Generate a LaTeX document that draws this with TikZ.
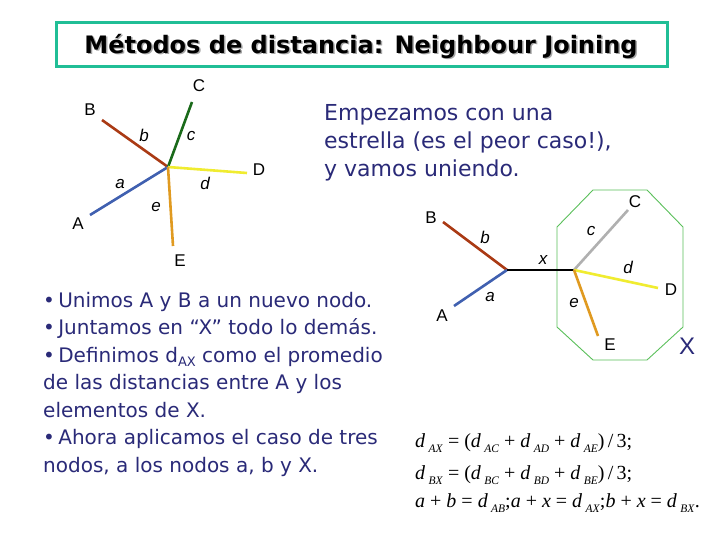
\documentclass[tikz,border=0pt]{standalone}
\usepackage{fontspec}
\setmainfont{DejaVu Sans}
\newfontfamily\tagfont{Liberation Sans}
\newfontfamily\titlefont{DejaVu Sans}
\newfontfamily\eqfont{Liberation Serif}
\newcommand{\dst}[1]{\textit{d}\,\raisebox{-0.55ex}{\fontsize{11.5}{11.5}\selectfont\textit{#1}}}
\definecolor{frame}{RGB}{32,190,150}
\definecolor{ink}{RGB}{42,42,120}
\definecolor{brA}{RGB}{64,96,176}
\definecolor{brB}{RGB}{170,58,20}
\definecolor{brC}{RGB}{26,106,26}
\definecolor{brCg}{RGB}{176,176,176}
\definecolor{brD}{RGB}{240,236,48}
\definecolor{brE}{RGB}{224,154,32}
\definecolor{octo}{RGB}{90,192,90}

\begin{document}
\begin{tikzpicture}[x=1pt,y=-1pt]
\tikzstyle{tip}=[inner sep=0pt,font=\tagfont\fontsize{17}{17}\selectfont]
\tikzstyle{len}=[inner sep=0pt,font=\tagfont\fontsize{17}{17}\selectfont\itshape]
\tikzstyle{branch}=[line width=2.6pt]
\tikzstyle{say}=[inner sep=0pt,anchor=base west,text=ink]
\tikzstyle{eq}=[inner sep=0pt,anchor=base west,font=\eqfont\fontsize{20}{20}\selectfont]
\useasboundingbox[fill=white] (0,0) rectangle (720,540);

\node[draw=frame,line width=3pt,minimum width=611pt,minimum height=44pt] (titlebox) at (361.5,45) {};
\node[text=gray!70,font=\titlefont\bfseries\fontsize{24}{24}\selectfont] (shadow) at (362.5,47.5) {Métodos de distancia: Neighbour Joining};
\node[font=\titlefont\bfseries\fontsize{24}{24}\selectfont] (title) at (361,46) {Métodos de distancia: Neighbour Joining};

\coordinate (o) at (168,167);
\coordinate (eA) at (90,215);
\coordinate (eB) at (102,120);
\coordinate (eC) at (192,102);
\coordinate (eD) at (247,173);
\coordinate (eE) at (173,246);
\draw[branch,brB] (o) -- (eB);
\draw[branch,brC] (o) -- (eC);
\draw[branch,brD] (o) -- (eD);
\draw[branch,brA] (o) -- (eA);
\draw[branch,brE] (o) -- (eE);
\node[tip] (A) at (78,224) {A};
\node[tip] (B) at (90,110) {B};
\node[tip] (C) at (199,86) {C};
\node[tip] (D) at (259,170) {D};
\node[tip] (E) at (180,261) {E};
\node[len] (a) at (120,184) {a};
\node[len] (b) at (144,135) {b};
\node[len] (c) at (191,136) {c};
\node[len] (d) at (205,183) {d};
\node[len] (e) at (156,207) {e};

\node[say,font=\fontsize{22}{22}\selectfont] (say1) at (324,121) {Empezamos con una};
\node[say,font=\fontsize{22}{22}\selectfont] (say2) at (324,149) {estrella (es el peor caso!),};
\node[say,font=\fontsize{22}{22}\selectfont] (say3) at (324,177) {y vamos uniendo.};

\draw[octo,line width=0.9pt] (593,190) -- (647,190) -- (683,227) -- (683,327) -- (647,360) -- (593,360) -- (557,327) -- (557,227) -- cycle;
\coordinate (ab) at (507,270);
\coordinate (xx) at (574,270);
\coordinate (fA) at (454,306);
\coordinate (fB) at (443,222);
\coordinate (fC) at (628,210);
\coordinate (fD) at (658,288);
\coordinate (fE) at (598,336);
\draw[branch,brB] (ab) -- (fB);
\draw[branch,brA] (ab) -- (fA);
\draw[branch,black] (ab) -- (xx);
\draw[branch,brCg] (xx) -- (fC);
\draw[branch,brD] (xx) -- (fD);
\draw[branch,brE] (xx) -- (fE);
\node[tip] (A2) at (442,316) {A};
\node[tip] (B2) at (431,218) {B};
\node[tip] (C2) at (635,202) {C};
\node[tip] (D2) at (671,290) {D};
\node[tip] (E2) at (610,345) {E};
\node[len] (a2) at (490,297) {a};
\node[len] (b2) at (485,237) {b};
\node[len] (x2) at (543,260) {x};
\node[len] (c2) at (591,231) {c};
\node[len] (d2) at (628,267) {d};
\node[len] (e2) at (574,303) {e};
\node[tip,text=ink,font=\tagfont\fontsize{24}{24}\selectfont] (X) at (687,346) {X};

\node[say,font=\fontsize{20}{20}\selectfont] (pt1) at (43,307) {•\,Unimos A y B a un nuevo nodo.};
\node[say,font=\fontsize{20}{20}\selectfont] (pt2) at (43,334.5) {•\,Juntamos en “X” todo lo demás.};
\node[say,font=\fontsize{20}{20}\selectfont] (pt3) at (43,362) {•\,Definimos d\raisebox{-0.45ex}{\fontsize{13}{13}\selectfont AX} como el promedio};
\node[say,font=\fontsize{20}{20}\selectfont] (pt4) at (43,389.5) {de las distancias entre A y los};
\node[say,font=\fontsize{20}{20}\selectfont] (pt5) at (43,417) {elementos de X.};
\node[say,font=\fontsize{20}{20}\selectfont] (pt6) at (43,444.5) {•\,Ahora aplicamos el caso de tres};
\node[say,font=\fontsize{20}{20}\selectfont] (pt7) at (43,472) {nodos, a los nodos a, b y X.};

\node[eq] (eq1) at (415,447) {\dst{AX} = (\dst{AC} + \dst{AD} + \dst{AE})\,/\,3;};
\node[eq] (eq2) at (415,479) {\dst{BX} = (\dst{BC} + \dst{BD} + \dst{BE})\,/\,3;};
\node[eq] (eq3) at (415,507) {\textit{a} + \textit{b} = \dst{AB};\textit{a} + \textit{x} = \dst{AX};\textit{b} + \textit{x} = \dst{BX}.};
\end{tikzpicture}
\end{document}
